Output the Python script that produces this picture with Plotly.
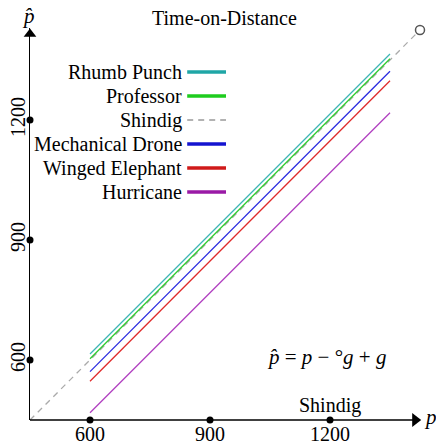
import plotly.graph_objects as go

# ---- data ----
series_names = ["Rhumb Punch", "Professor", "Shindig", "Mechanical Drone", "Winged Elephant", "Hurricane"]
series_colors = ["#3db5b5", "#2ecc2e", "#aaaaaa", "#2a2ae0", "#e02a2a", "#b03cc0"]
legend_colors = ["#1fa6a6", "#1ecc1e", "#999999", "#1414d0", "#d01a1a", "#9a1aa6"]
p_range = [600, 1350]
rhumb_punch = [615, 1365]
professor = [603, 1353]
mechanical_drone = [571, 1322]
winged_elephant = [547, 1298]
hurricane = [468, 1218]
shindig_p = [450, 1425]
shindig_phat = [450, 1425]
tick_vals = [600, 900, 1200]
tick_text = ["600", "900", "1200"]

FONT = "Liberation Serif"
FS = 20
XR = [450, 1430]
YR = [450, 1430]


def px(v):
    return (v - XR[0]) / (XR[1] - XR[0])


def py(v):
    return (v - YR[0]) / (YR[1] - YR[0])


fig = go.Figure()

# arrow heads of the axes
fig.add_trace(go.Scatter(x=[1413], y=[450], mode="markers", cliponaxis=False,
                         marker=dict(symbol="triangle-right", size=12, color="black"), showlegend=False, hoverinfo="skip"))
fig.add_trace(go.Scatter(x=[450], y=[1415], mode="markers", cliponaxis=False,
                         marker=dict(symbol="triangle-up", size=11, color="black"), showlegend=False, hoverinfo="skip"))

# shindig dashed diagonal + circle
fig.add_trace(go.Scatter(x=shindig_p, y=shindig_phat, mode="lines",
                         line=dict(color=series_colors[2], width=1.3, dash="6px,5px"), showlegend=False))
fig.add_trace(go.Scatter(x=[shindig_p[-1]], y=[shindig_phat[-1]], mode="markers", cliponaxis=False,
                         marker=dict(symbol="circle", size=9, color="white", line=dict(width=1.5, color="#555555")),
                         showlegend=False))

for name, col, vals in [("Rhumb Punch", series_colors[0], rhumb_punch),
                        ("Professor", series_colors[1], professor),
                        ("Mechanical Drone", series_colors[3], mechanical_drone),
                        ("Winged Elephant", series_colors[4], winged_elephant),
                        ("Hurricane", series_colors[5], hurricane)]:
    fig.add_trace(go.Scatter(x=p_range, y=vals, mode="lines", name=name,
                             line=dict(color=col, width=1.3), showlegend=False))

# tick dots
fig.add_trace(go.Scatter(x=tick_vals, y=[450] * 3, mode="markers", cliponaxis=False,
                         marker=dict(size=7, color="black"), showlegend=False, hoverinfo="skip"))
fig.add_trace(go.Scatter(x=[450] * 3, y=tick_vals, mode="markers", cliponaxis=False,
                         marker=dict(size=7, color="black"), showlegend=False, hoverinfo="skip"))

# custom legend (text then line sample)
annotations = []
for i, (name, col) in enumerate(zip(series_names, legend_colors)):
    y = 1320 - 60 * i
    annotations.append(dict(x=834, y=y, xref="x", yref="y", text=name, showarrow=False,
                            xanchor="right", yanchor="middle", font=dict(family=FONT, size=FS, color="black")))
    if name == "Shindig":
        fig.add_shape(type="line", x0=843, x1=940, y0=y, y1=y, line=dict(color=col, width=1.3, dash="6px,5px"))
    else:
        fig.add_shape(type="line", x0=843, x1=940, y0=y, y1=y, line=dict(color=col, width=3.5))

annotations += [
    dict(x=px(936), y=py(1455), xref="paper", yref="paper", text="Time-on-Distance", showarrow=False,
         xanchor="center", yanchor="middle", font=dict(family=FONT, size=FS, color="black")),
    dict(x=1200, y=487, xref="x", yref="y", text="Shindig", showarrow=False,
         xanchor="center", yanchor="middle", font=dict(family=FONT, size=FS, color="black")),
    dict(x=1190, y=607, xref="x", yref="y", text="<i>p̂</i> = <i>p</i> − °<i>g</i> + <i>g</i>", showarrow=False,
         xanchor="center", yanchor="middle", font=dict(family=FONT, size=21, color="black")),
    dict(x=px(1450), y=py(457), xref="paper", yref="paper", text="<i>p</i>", showarrow=False,
         xanchor="center", yanchor="middle", font=dict(family=FONT, size=21, color="black")),
    dict(x=px(447), y=py(1460), xref="paper", yref="paper", text="<i>p̂</i>", showarrow=False,
         xanchor="center", yanchor="middle", font=dict(family=FONT, size=21, color="black")),
]

fig.update_layout(
    width=436, height=442,
    margin=dict(l=30, r=14, t=28, b=22, pad=0, autoexpand=False),
    plot_bgcolor="white", paper_bgcolor="white",
    showlegend=False,
    hovermode=False,
    annotations=annotations,
    font=dict(family=FONT, size=FS, color="black"),
    xaxis=dict(range=XR, showgrid=False, zeroline=False, showline=False,
               tickvals=tick_vals, ticktext=tick_text, ticks="", ticklabelstandoff=0, automargin=False,
               tickfont=dict(family=FONT, size=FS)),
    yaxis=dict(range=YR, showgrid=False, zeroline=False, showline=True, linecolor="black", linewidth=1.3,
               tickvals=tick_vals, ticktext=tick_text, ticks="", tickangle=-90, ticklabelstandoff=-4, automargin=False,
               tickfont=dict(family=FONT, size=FS)),
)

# x axis line: drawn as a paper-referenced shape ending at the arrow head
fig.add_shape(type="line", xref="paper", yref="paper", x0=0, x1=px(1410), y0=0, y1=0,
              line=dict(color="black", width=1.3))

fig.write_html("out.html", config={"displayModeBar": False},
               post_script="document.body.style.margin='0px'; document.body.style.overflow='hidden';")
